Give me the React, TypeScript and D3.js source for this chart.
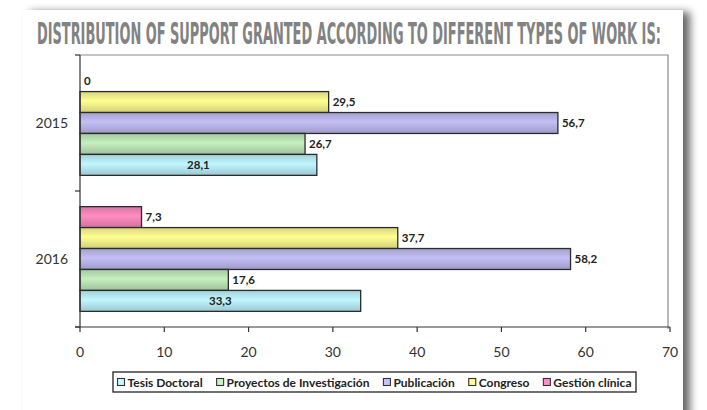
import React, { useEffect } from 'react';
import * as d3 from 'd3';

const years = ['2015', '2016'];
// series from top of each group to bottom
const series = ['Gestión clínica', 'Congreso', 'Publicación', 'Proyectos de Investigación', 'Tesis Doctoral'];
const legendOrder = ['Tesis Doctoral', 'Proyectos de Investigación', 'Publicación', 'Congreso', 'Gestión clínica'];
const values2015 = [0, 29.5, 56.7, 26.7, 28.1];
const values2016 = [7.3, 37.7, 58.2, 17.6, 33.3];
const xTicks = [0, 10, 20, 30, 40, 50, 60, 70];
const colors: Record<string, string> = {
  'Tesis Doctoral': '#b0e2ee',
  'Proyectos de Investigación': '#b4dbb0',
  'Publicación': '#b3afe0',
  'Congreso': '#ecea86',
  'Gestión clínica': '#ee80b2',
};
const title = 'DISTRIBUTION OF SUPPORT GRANTED ACCORDING TO DIFFERENT TYPES OF WORK IS:';

const W = 707;
const H = 410;

const fmt = (v: number) => String(v).replace('.', ',');

const measure = (() => {
  let ctx: CanvasRenderingContext2D | null = null;
  return (t: string, font: string) => {
    if (!ctx) ctx = document.createElement('canvas').getContext('2d');
    if (!ctx) return t.length * 6;
    ctx.font = font;
    return ctx.measureText(t).width;
  };
})();

const App: React.FC = () => {
  useEffect(() => {
    document.body.style.margin = '0';
  }, []);

  const x = d3.scaleLinear().domain([0, 70]).range([80, 670]);
  const y = d3.scaleBand<string>().domain(years).range([55, 327]).paddingInner(0.23).paddingOuter(0.115);
  const inner = d3.scaleBand<string>().domain(series).range([0, y.bandwidth()]);
  const dataByYear: Record<string, number[]> = { '2015': values2015, '2016': values2016 };

  // title squeezed horizontally to mimic a condensed display face
  const titleFont = "bold 31px 'DejaVu Sans Condensed'";
  const titleW = measure(title, titleFont);
  const titleScale = 624 / titleW;

  // legend layout, spread across the box
  const legendFont = 'bold 12px Lato';
  const sq = 7;
  const items = legendOrder.map(name => ({ name, w: measure(name, legendFont) }));
  const legX0 = 113, legX1 = 636;
  const inner0 = 118, inner1 = 632;
  const used = d3.sum(items, d => sq + 3 + d.w);
  const gap = Math.max(4, (inner1 - inner0 - used) / (items.length - 1));
  let cx = (legX0 + legX1) / 2 - (used + gap * (items.length - 1)) / 2;
  const legendItems = items.map(d => {
    const it = { ...d, x: cx };
    cx += sq + 3 + d.w + gap;
    return it;
  });

  return (
    <svg width={W} height={H} style={{ display: 'block', background: '#ffffff' }}>
      <defs>
        <filter id="cardShadow" x="-5%" y="-5%" width="115%" height="115%">
          <feGaussianBlur in="SourceAlpha" stdDeviation="4" />
          <feOffset dx="7" dy="2" result="ob" />
          <feComponentTransfer><feFuncA type="linear" slope="0.6" /></feComponentTransfer>
          <feMerge>
            <feMergeNode />
            <feMergeNode in="SourceGraphic" />
          </feMerge>
        </filter>
        {series.map((s, i) => (
          <linearGradient key={s} id={`g${i}`} x1="0" y1="0" x2="0" y2="1">
            <stop offset="0%" stopColor={d3.color(colors[s])!.darker(0.25).toString()} />
            <stop offset="45%" stopColor={d3.color(colors[s])!.brighter(0.25).toString()} />
            <stop offset="100%" stopColor={d3.color(colors[s])!.darker(0.35).toString()} />
          </linearGradient>
        ))}
      </defs>

      <rect x={23} y={10} width={660} height={420} fill="#ffffff" filter="url(#cardShadow)" />

      <text
        transform={`translate(37,44) scale(${titleScale},1)`}
        fontFamily="'DejaVu Sans Condensed', 'DejaVu Sans', sans-serif"
        fontWeight="bold"
        fontSize={31}
        fill="#828282"
      >
        {title}
      </text>

      {/* plot frame */}
      <path d={`M80,55 H668 V329`} fill="none" stroke="#8a8a8a" strokeWidth={1.2} />

      {/* bars */}
      {years.map(yr => (
        <g key={yr} transform={`translate(0,${y(yr)})`}>
          {series.map((s, i) => {
            const v = dataByYear[yr][i];
            const by = inner(s)!;
            const bh = inner.bandwidth();
            const isInside = s === 'Tesis Doctoral';
            return (
              <g key={s}>
                {v > 0 && (
                  <rect x={x(0)} y={by} width={x(v) - x(0)} height={bh} fill={`url(#g${i})`} stroke="#2b2b2b" strokeWidth={1.3} />
                )}
                <text
                  x={isInside ? (x(0) + x(v)) / 2 : x(v) + 4}
                  y={by + bh / 2 + 4}
                  textAnchor={isInside ? 'middle' : 'start'}
                  fontFamily="Lato, 'Open Sans', sans-serif"
                  fontWeight="bold"
                  fontSize={11.5}
                  fill="#222"
                >
                  {fmt(v)}
                </text>
              </g>
            );
          })}
        </g>
      ))}

      {/* y axis */}
      <line x1={80} y1={55} x2={80} y2={327} stroke="#333" strokeWidth={1.2} />
      {[55, y(years[1])! - (y.step() - y.bandwidth()) / 2, 327].map((ty, i) => (
        <line key={i} x1={75} y1={ty} x2={80} y2={ty} stroke="#333" strokeWidth={1.2} />
      ))}
      {years.map(yr => (
        <text
          key={yr}
          x={68}
          y={y(yr)! + y.bandwidth() / 2 + 5}
          textAnchor="end"
          fontFamily="Lato, 'Open Sans', sans-serif"
          fontSize={14}
          fill="#333"
        >
          {yr}
        </text>
      ))}

      {/* x axis */}
      <line x1={75} y1={327} x2={670} y2={327} stroke="#333" strokeWidth={1.2} />
      {xTicks.map(t => (
        <g key={t}>
          <line x1={x(t)} y1={327} x2={x(t)} y2={332} stroke="#333" strokeWidth={1.2} />
          <text
            x={x(t)}
            y={357}
            textAnchor="middle"
            fontFamily="Lato, 'Open Sans', sans-serif"
            fontSize={14}
            fill="#333"
          >
            {t}
          </text>
        </g>
      ))}

      {/* legend */}
      <rect x={legX0} y={372} width={legX1 - legX0} height={20} fill="#fff" stroke="#222" strokeWidth={1.3} />
      {legendItems.map(d => (
        <g key={d.name}>
          <rect x={d.x} y={378.5} width={sq} height={sq} fill={d3.color(colors[d.name])!.brighter(0.3).toString()} stroke="#333" strokeWidth={1.1} />
          <text x={d.x + sq + 3} y={386.5} fontFamily="Lato, 'Open Sans', sans-serif" fontWeight="bold" fontSize={12} fill="#222">
            {d.name}
          </text>
        </g>
      ))}
    </svg>
  );
};

export default App;
